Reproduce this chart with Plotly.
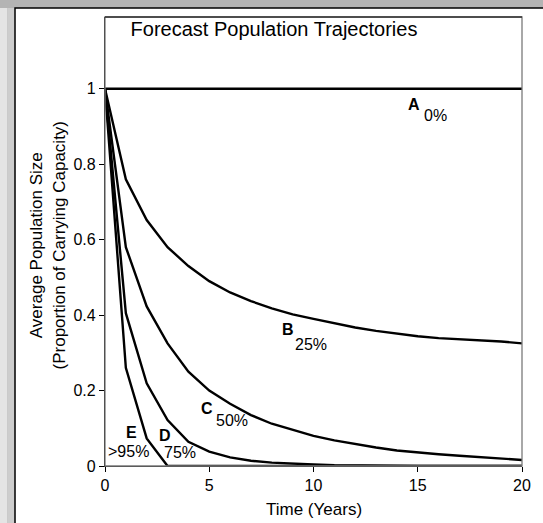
import plotly.graph_objects as go

years = list(range(21))
pop_A = [1.0] * 21
pop_B = [1.0, 0.76, 0.652, 0.58, 0.53, 0.49, 0.46, 0.437, 0.418, 0.402, 0.39,
         0.378, 0.367, 0.358, 0.35, 0.344, 0.339, 0.336, 0.333, 0.33, 0.325]
pop_C = [1.0, 0.58, 0.423, 0.325, 0.25, 0.2, 0.165, 0.135, 0.112, 0.095, 0.08,
         0.068, 0.058, 0.049, 0.041, 0.035, 0.031, 0.027, 0.023, 0.019, 0.016]
pop_D = [1.0, 0.405, 0.219, 0.122, 0.064, 0.038, 0.023, 0.014, 0.009, 0.006, 0.004,
         0.002, 0.001, 0, 0, 0, 0, 0, 0, 0, 0]
pop_E = [1.0, 0.26, 0.073, 0, 0, 0, 0, 0, 0, 0, 0,
         0, 0, 0, 0, 0, 0, 0, 0, 0, 0]

series = [("A", pop_A), ("B", pop_B), ("C", pop_C), ("D", pop_D), ("E", pop_E)]

labels = [
    # letter, pct, letter pos, pct pos
    ("A", "0%", (14.81, 0.958), (15.85, 0.930)),
    ("B", "25%", (8.76, 0.363), (9.9, 0.323)),
    ("C", "50%", (4.9, 0.153), (6.1, 0.12)),
    ("D", "75%", (2.9, 0.082), (3.61, 0.036)),
    ("E", ">95%", (1.25, 0.088), (1.12, 0.038)),
]

FONT = "Liberation Sans, Arial, sans-serif"

fig = go.Figure()
for name, vals in series:
    fig.add_trace(go.Scatter(x=years, y=vals, mode="lines", name=name,
                             line=dict(color="black", width=2.4),
                             showlegend=False, cliponaxis=False))

L, R, T, B = 104.5, 528.5, 17, 466
W, H = 543, 523
pw, ph = R - L, B - T

def px_x(px):
    return (px - L) / pw

def px_y(py):
    return (B - py) / ph

shapes = [
    # gray shadow strips
    dict(type="rect", xref="paper", yref="paper", layer="below",
         x0=px_x(-5), x1=px_x(W + 5), y0=px_y(H + 5), y1=px_y(-5),
         fillcolor="#b4b4b4", line=dict(width=0)),
    dict(type="rect", xref="paper", yref="paper", layer="below",
         x0=px_x(-5), x1=px_x(5), y0=px_y(H + 5), y1=px_y(8),
         fillcolor="#e4e4e4", line=dict(width=0)),
    dict(type="rect", xref="paper", yref="paper", layer="below",
         x0=px_x(5), x1=px_x(13), y0=px_y(H + 5), y1=px_y(8),
         fillcolor="#cdcdcd", line=dict(width=0)),
    # white chart area with black border
    dict(type="rect", xref="paper", yref="paper", layer="below",
         x0=px_x(13), x1=px_x(W + 10), y0=px_y(H + 10), y1=px_y(8),
         fillcolor="white", line=dict(color="black", width=1.5)),
    # plot area border
    dict(type="rect", xref="paper", yref="paper", layer="above",
         x0=0, x1=1, y0=0, y1=1,
         fillcolor="rgba(0,0,0,0)", line=dict(color="#7a7a7a", width=1.3)),
    dict(type="line", xref="paper", yref="paper", layer="above",
         x0=0, x1=1, y0=1, y1=1, line=dict(color="#333333", width=1.3)),
]

annotations = []
for letter, pct, lp, pp in labels:
    annotations.append(dict(x=lp[0], y=lp[1], xref="x", yref="y", text="<b>%s</b>" % letter,
                            showarrow=False, font=dict(family=FONT, size=16, color="black"),
                            xanchor="center", yanchor="middle"))
    annotations.append(dict(x=pp[0], y=pp[1], xref="x", yref="y", text=pct,
                            showarrow=False, font=dict(family=FONT, size=16, color="black"),
                            xanchor="center", yanchor="middle"))

annotations.append(dict(x=px_x(46), y=px_y(245), xref="paper", yref="paper",
                        text="Average Population Size<br>(Proportion of Carrying Capacity)",
                        textangle=-90, showarrow=False,
                        font=dict(family=FONT, size=17, color="black"),
                        xanchor="center", yanchor="middle"))
annotations.append(dict(x=0.5, y=px_y(509), xref="paper", yref="paper",
                        text="Time (Years)", showarrow=False,
                        font=dict(family=FONT, size=17, color="black"),
                        xanchor="center", yanchor="middle"))

fig.update_layout(
    width=W, height=H,
    margin=dict(l=L, r=W - R, t=T, b=H - B, pad=0),
    paper_bgcolor="#b4b4b4",
    plot_bgcolor="white",
    title=dict(text="Forecast Population Trajectories", x=274 / W, y=1 - 29 / H,
               xanchor="center", yanchor="middle",
               font=dict(family=FONT, size=20, color="black")),
    shapes=shapes,
    annotations=annotations,
    font=dict(family=FONT, color="black"),
)

fig.update_xaxes(range=[0, 20], tickvals=[0, 5, 10, 15, 20], ticks="outside", ticklen=5,
                 tickcolor="black", showline=True, linecolor="black", linewidth=1.3,
                 showgrid=False, zeroline=False, tickfont=dict(family=FONT, size=16, color="black"))
fig.update_yaxes(range=[0, 1.19], tickvals=[0, 0.2, 0.4, 0.6, 0.8, 1],
                 ticktext=["0", "0.2", "0.4", "0.6", "0.8", "1"], ticks="outside", ticklen=5,
                 tickcolor="black", showline=True, linecolor="black", linewidth=1.3,
                 showgrid=False, zeroline=False, tickfont=dict(family=FONT, size=16, color="black"))

fig.write_html("out.html")
